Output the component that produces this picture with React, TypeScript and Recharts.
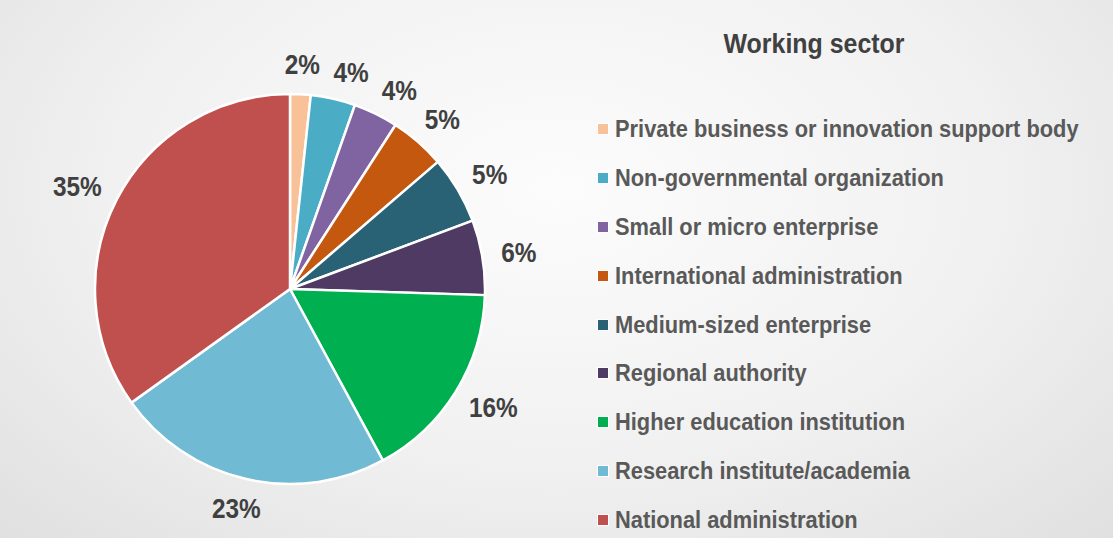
import { Cell, Legend, Pie, PieChart } from "recharts";

const sectors = [
  "Private business or innovation support body",
  "Non-governmental organization",
  "Small or micro enterprise",
  "International administration",
  "Medium-sized enterprise",
  "Regional authority",
  "Higher education institution",
  "Research institute/academia",
  "National administration",
];
// slice sizes (unrounded)
const shares = [1.7, 3.7, 3.7, 4.6, 5.6, 6.2, 16.6, 23.0, 34.9];
// percentages printed on the slices
const labels = ["2%", "4%", "4%", "5%", "5%", "6%", "16%", "23%", "35%"];
const colors = [
  "#F9C197",
  "#4BACC6",
  "#8064A2",
  "#C4580F",
  "#2A6275",
  "#4E3A62",
  "#00B050",
  "#70BBD3",
  "#C0504D",
];

const data = sectors.map((name, i) => ({ name, value: shares[i], label: labels[i] }));

const FONT = "'Liberation Sans', Arial, sans-serif";
const RAD = Math.PI / 180;
const SQUEEZE = 0.87;
const CX = 290;
const CY = 289;
const R = 195;

// place each label just outside its slice, nudging it clockwise if it runs into the previous one
const labelSpots = (() => {
  const total = shares.reduce((a, b) => a + b, 0);
  const out: { x: number; y: number; hw: number }[] = [];
  let acc = 0;
  shares.forEach((v, i) => {
    let ang = 90 - ((acc + v / 2) / total) * 360;
    acc += v;
    const hw = labels[i].length === 2 ? 17 : 24;
    const hh = 10;
    const place = (a: number) => {
      const cos = Math.cos(a * RAD);
      const sin = -Math.sin(a * RAD);
      const r = R + 20;
      return { x: CX + r * cos + cos * hw, y: CY + r * sin + sin * hh };
    };
    let p = place(ang);
    const prev = out[i - 1];
    let guard = 0;
    while (
      prev &&
      guard < 60 &&
      Math.abs(p.x - prev.x) < prev.hw + hw + 14 &&
      Math.abs(p.y - prev.y) < hh * 2
    ) {
      ang -= 0.5;
      p = place(ang);
      guard++;
    }
    out.push({ ...p, hw });
  });
  return out;
})();

const renderLabel = (props: any) => {
  const { payload } = props;
  const i = sectors.indexOf(payload.name);
  const spot = labelSpots[i];
  return (
    <text
      transform={`translate(${spot.x},${spot.y}) scale(${SQUEEZE},1)`}
      x={0}
      y={0}
      fill="#404040"
      textAnchor="middle"
      dominantBaseline="central"
      fontFamily={FONT}
      fontWeight="bold"
      fontSize={28}
    >
      {payload.label}
    </text>
  );
};

const renderLegend = () => (
  <div style={{ fontFamily: FONT, fontWeight: "bold", fontSize: 24, color: "#595959" }}>
    {data.map((d, i) => (
      <div key={d.name} style={{ display: "flex", alignItems: "center", height: 48.9 }}>
        <span
          style={{
            width: 10,
            height: 10,
            flex: "none",
            background: colors[i],
            border: "1px solid #fff",
            marginRight: 6,
          }}
        />
        <span
          style={{
            display: "inline-block",
            whiteSpace: "nowrap",
            transform: "scaleX(0.91)",
            transformOrigin: "left center",
          }}
        >
          {d.name}
        </span>
      </div>
    ))}
  </div>
);

function App() {
  return (
    <div
      style={{
        position: "absolute",
        left: 0,
        top: 0,
        width: 1113,
        height: 538,
        overflow: "hidden",
        background:
          "radial-gradient(ellipse at 50% 35%, #fcfcfc 0%, #f1f1f1 55%, #e0e0e0 100%)",
      }}
    >
      <div
        style={{
          position: "absolute",
          left: 814,
          top: 28,
          transform: "translateX(-50%) scaleX(0.89)",
          whiteSpace: "nowrap",
          fontFamily: FONT,
          fontWeight: "bold",
          fontSize: 28,
          color: "#404040",
        }}
      >
        Working sector
      </div>
      <PieChart width={1113} height={538} margin={{ top: 0, right: 0, bottom: 0, left: 0 }}>
        <Pie
          data={data}
          dataKey="value"
          nameKey="name"
          cx={CX}
          cy={CY}
          outerRadius={R}
          startAngle={90}
          endAngle={-270}
          stroke="#ffffff"
          strokeWidth={2.5}
          label={renderLabel}
          labelLine={false}
          isAnimationActive={false}
        >
          {data.map((d, i) => (
            <Cell key={d.name} fill={colors[i]} />
          ))}
        </Pie>
        <Legend
          layout="vertical"
          content={renderLegend}
          wrapperStyle={{ position: "absolute", left: 597, top: 104.5, width: 515 }}
        />
      </PieChart>
    </div>
  );
}

export default App;
